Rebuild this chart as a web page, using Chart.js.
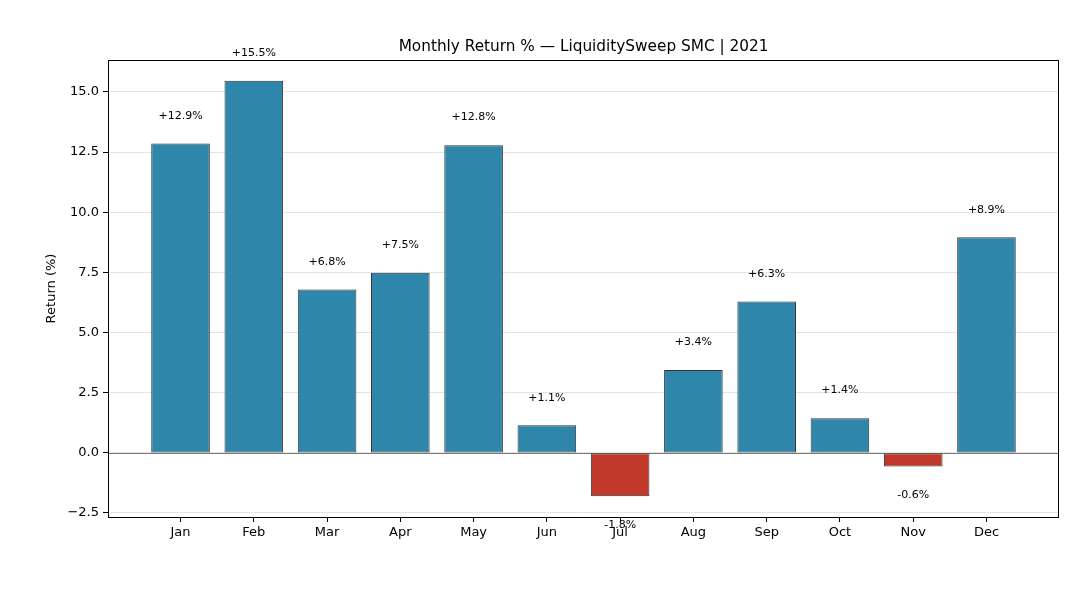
<!DOCTYPE html>
<html>
<head>
<meta charset="utf-8">
<script src="https://cdn.jsdelivr.net/npm/chart.js@4"></script>
<style>
html,body{margin:0;padding:0;background:#fff;}
#wrap{width:1080px;height:600px;}
</style>
</head>
<body>
<div id="wrap"><canvas id="c" width="1080" height="600"></canvas></div>
<script>
const months = ["Jan","Feb","Mar","Apr","May","Jun","Jul","Aug","Sep","Oct","Nov","Dec"];
const returns = [12.86, 15.47, 6.79, 7.49, 12.79, 1.14, -1.81, 3.44, 6.29, 1.44, -0.57, 8.96];
const valueLabels = ["+12.9%","+15.5%","+6.8%","+7.5%","+12.8%","+1.1%","-1.8%","+3.4%","+6.3%","+1.4%","-0.6%","+8.9%"];
const yTicks = [-2.5, 0, 2.5, 5, 7.5, 10, 12.5, 15];
const titleText = "Monthly Return % \u2014 LiquiditySweep SMC | 2021";
const yTitle = "Return (%)";

const FONT = "'DejaVu Sans', sans-serif";
const POS = "#2E86AB", NEG = "#C0392B";

const overlay = {
  id: 'overlay',
  afterDatasetsDraw(chart) {
    const {ctx, chartArea: a, scales: {x, y}} = chart;
    ctx.save();
    ctx.strokeStyle = '#555555';
    ctx.lineWidth = 0.8;
    ctx.beginPath();
    ctx.moveTo(a.left, Math.round(y.getPixelForValue(0)) + 0.5);
    ctx.lineTo(a.right, Math.round(y.getPixelForValue(0)) + 0.5);
    ctx.stroke();
    ctx.fillStyle = '#000';
    ctx.font = "11px " + FONT;
    ctx.textAlign = 'center';
    returns.forEach((v, i) => {
      const px = x.getPixelForValue(i);
      if (v >= 0) {
        ctx.textBaseline = 'bottom';
        ctx.fillText(valueLabels[i], px, y.getPixelForValue(v + 1.0) + 2);
      } else {
        ctx.textBaseline = 'top';
        ctx.fillText(valueLabels[i], px, y.getPixelForValue(v - 1.0) - 1);
      }
    });
    ctx.restore();
  },
  afterDraw(chart) {
    const {ctx, chartArea: a} = chart;
    ctx.save();
    ctx.strokeStyle = '#000';
    ctx.lineWidth = 1;
    ctx.strokeRect(Math.round(a.left) + 0.5, Math.round(a.top) + 0.5, Math.round(a.right - a.left) - 1, Math.round(a.bottom - a.top));
    ctx.fillStyle = '#000';
    ctx.font = "15.3px " + FONT;
    ctx.textAlign = 'center';
    ctx.textBaseline = 'middle';
    ctx.fillText(titleText, (a.left + a.right) / 2, 47);
    ctx.font = "13px " + FONT;
    ctx.translate(52, (a.top + a.bottom) / 2);
    ctx.rotate(-Math.PI / 2);
    ctx.fillText(yTitle, 0, 0);
    ctx.restore();
  }
};

new Chart(document.getElementById('c'), {
  type: 'bar',
  data: {
    datasets: [{
      data: returns.map((v, i) => ({x: i, y: v})),
      backgroundColor: returns.map(v => v >= 0 ? POS : NEG),
      borderColor: '#333333',
      borderWidth: 1,
      borderSkipped: false,
      barPercentage: 0.8,
      categoryPercentage: 1.0
    }]
  },
  options: {
    responsive: false,
    animation: false,
    devicePixelRatio: 1,
    layout: {padding: {top: 60, right: 21, left: 0, bottom: 0}},
    plugins: {legend: {display: false}, title: {display: false}, tooltip: {enabled: false}},
    scales: {
      x: {
        type: 'linear',
        min: -0.99, max: 11.99,
        offset: false,
        afterBuildTicks: (ax) => { ax.ticks = months.map((_, i) => ({value: i})); },
        afterFit: (ax) => { ax.height = 83; },
        ticks: {
          callback: (v) => months[v],
          color: '#000', font: {family: FONT, size: 13}, padding: 3,
          maxRotation: 0, autoSkip: false
        },
        grid: {offset: false, drawOnChartArea: false, drawTicks: true, tickLength: 5, tickColor: '#000', tickWidth: 1},
        border: {display: false}
      },
      y: {
        min: -2.67, max: 16.33,
        afterBuildTicks: (ax) => { ax.ticks = yTicks.map(v => ({value: v})); },
        afterFit: (ax) => { ax.width = 108; },
        ticks: {
          callback: (v) => v < 0 ? '\u2212' + Math.abs(v).toFixed(1) : v.toFixed(1),
          color: '#000', font: {family: FONT, size: 13}, padding: 4
        },
        grid: {
          color: '#dddddd', lineWidth: 0.8, drawTicks: true, tickLength: 5,
          tickColor: '#000', tickWidth: 1
        },
        border: {display: false}
      }
    }
  },
  plugins: [overlay]
});
</script>
</body>
</html>
